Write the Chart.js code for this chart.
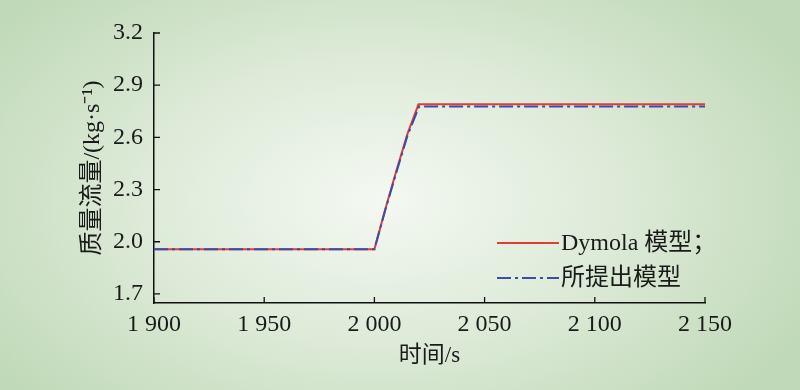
<!DOCTYPE html>
<html>
<head>
<meta charset="utf-8">
<script src="https://cdn.jsdelivr.net/npm/chart.js@4/dist/chart.umd.min.js"></script>
<style>
  html, body { margin: 0; padding: 0; }
  body {
    width: 800px; height: 390px; overflow: hidden;
    background: radial-gradient(ellipse 480px 290px at 380px 200px, #f4f8f2 0%, #dfecda 45%, #c0d9b8 100%);
  }
  #wrap { width: 800px; height: 390px; }
</style>
</head>
<body>
<div id="wrap"><canvas id="flowChart"></canvas></div>
<script>
// time axis (s) and mass flow (kg/s)
const dymolaTime = [1900, 2000, 2005, 2010, 2015, 2020, 2150];
const dymolaFlow = [1.957, 1.957, 2.19, 2.41, 2.62, 2.79, 2.79];
const proposedTime = [1900, 2000, 2005, 2010, 2015, 2020.3, 2150];
const proposedFlow = [1.957, 1.957, 2.185, 2.40, 2.61, 2.777, 2.777];
const xTicks = [1900, 1950, 2000, 2050, 2100, 2150];
const yTicks = [1.7, 2.0, 2.3, 2.6, 2.9, 3.2];
const seriesNames = ['Dymola 模型；', '所提出模型'];

const serif = "'Liberation Serif', 'Noto Sans CJK SC', serif";
const red = '#e23b3b';
const blue = '#3a4ea6';
const blueDash = [14, 4, 3, 4];

const toPoints = (xs, ys) => xs.map((x, i) => ({ x, y: ys[i] }));

// inward tick marks + hand-drawn legend
const decorPlugin = {
    id: 'decor',
    afterDraw(chart) {
        const ctx = chart.ctx;
        const { x, y } = chart.scales;
        ctx.save();
        ctx.strokeStyle = '#111';
        ctx.lineWidth = 1.3;
        ctx.beginPath();
        xTicks.forEach(v => {
            const px = x.getPixelForValue(v);
            ctx.moveTo(px, y.bottom);
            ctx.lineTo(px, y.bottom - 6);
        });
        yTicks.forEach(v => {
            const py = y.getPixelForValue(v);
            ctx.moveTo(x.left, py);
            ctx.lineTo(x.left + 6, py);
        });
        ctx.stroke();

        // legend
        const rows = [
            { color: red, dash: [], y: 243 },
            { color: blue, dash: blueDash, y: 278 }
        ];
        ctx.font = '24px ' + serif;
        ctx.textBaseline = 'middle';
        ctx.fillStyle = '#1a1a1a';
        rows.forEach((r, i) => {
            ctx.beginPath();
            ctx.setLineDash(r.dash);
            ctx.strokeStyle = r.color;
            ctx.lineWidth = 1.8;
            ctx.moveTo(497, r.y);
            ctx.lineTo(559, r.y);
            ctx.stroke();
            ctx.setLineDash([]);
            ctx.fillText(seriesNames[i], 561, r.y + 1);
        });
        ctx.restore();
    }
};

new Chart(document.getElementById('flowChart'), {
    type: 'line',
    data: {
        datasets: [
            {
                label: seriesNames[0],
                data: toPoints(dymolaTime, dymolaFlow),
                borderColor: red,
                borderWidth: 2,
                pointRadius: 0,
                tension: 0,
                order: 1
            },
            {
                label: seriesNames[1],
                data: toPoints(proposedTime, proposedFlow),
                borderColor: blue,
                borderWidth: 2,
                borderDash: blueDash,
                pointRadius: 0,
                tension: 0,
                order: 0
            }
        ]
    },
    options: {
        responsive: true,
        maintainAspectRatio: false,
        animation: false,
        layout: { padding: { top: 33, right: 95, left: 0, bottom: 0 } },
        plugins: {
            legend: { display: false },
            tooltip: { enabled: false }
        },
        scales: {
            x: {
                type: 'linear',
                min: 1900,
                max: 2150,
                afterFit(scale) { scale.height = 87; },
                afterBuildTicks(scale) { scale.ticks = xTicks.map(v => ({ value: v })); },
                grid: { display: false, drawTicks: false },
                border: { display: true, color: '#111', width: 1.5 },
                ticks: {
                    padding: 7,
                    color: '#1a1a1a',
                    font: { family: serif, size: 24 },
                    maxRotation: 0,
                    callback: v => String(v).replace(/(\d)(\d{3})$/, '$1 $2')
                },
                title: {
                    display: true,
                    text: '时间/s',
                    color: '#1a1a1a',
                    font: { family: serif, size: 23 },
                    padding: { bottom: 20 }
                }
            },
            y: {
                min: 1.648,
                max: 3.2,
                afterFit(scale) { scale.width = 154; },
                afterBuildTicks(scale) { scale.ticks = yTicks.map(v => ({ value: v })); },
                grid: { display: false, drawTicks: false },
                border: { display: true, color: '#111', width: 1.5 },
                ticks: {
                    padding: 11,
                    color: '#1a1a1a',
                    font: { family: serif, size: 24 },
                    callback: v => v.toFixed(1)
                },
                title: {
                    display: true,
                    text: '质量流量/(kg·s⁻¹)',
                    color: '#1a1a1a',
                    font: { family: serif, size: 24 },
                    padding: { top: 78 }
                }
            }
        }
    },
    plugins: [decorPlugin]
});
</script>
</body>
</html>
